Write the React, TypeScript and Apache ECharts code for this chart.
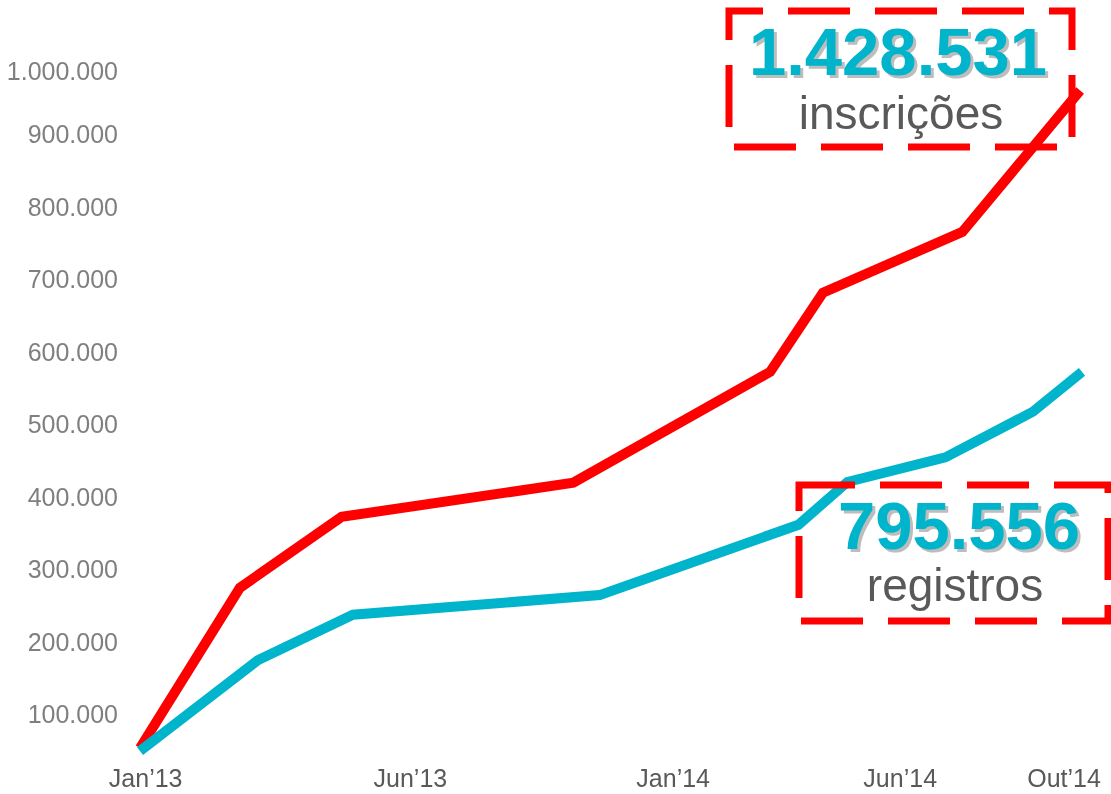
import React, { useEffect, useRef } from "react";
import * as echarts from "echarts";

// Data (x = position along the timeline, 0..100; y = cumulative count)
const inscricoesX = [0, 10.6, 21.4, 46.0, 66.9, 72.5, 87.3, 99.8];
const inscricoesY = [53000, 274000, 372000, 419000, 572000, 681000, 765000, 960000];
const registrosX = [0, 12.5, 22.6, 48.8, 69.9, 75.1, 85.5, 94.8, 100];
const registrosY = [49000, 174000, 237000, 264000, 361000, 420000, 454000, 517000, 572000];

const xTickLabels = ["Jan\u201913", "Jun\u201913", "Jan\u201914", "Jun\u201914", "Out\u201914"];
const xTickPositions = [0.6, 28.7, 56.6, 80.7, 98.1];
const yTickValues = [100000, 200000, 300000, 400000, 500000, 600000, 700000, 800000, 900000, 1000000];

const totalInscricoes = "1.428.531";
const totalRegistros = "795.556";
const labelInscricoes = "inscrições";
const labelRegistros = "registros";

const FONT = "'Liberation Sans', Arial, sans-serif";
const RED = "#ff0000";
const CYAN = "#00b4cc";

const fmt = (v: number) => String(Math.round(v)).replace(/\B(?=(\d{3})+(?!\d))/g, ".");

export default function App() {
  const ref = useRef<HTMLDivElement>(null);
  useEffect(() => {
    if (!ref.current) return;
    const chart = echarts.init(ref.current, undefined, { renderer: "svg" });
    const bigText = (text: string, x: number, y: number, fill: string, z: number) => ({
      type: "text",
      x,
      y,
      z,
      style: {
        text,
        fill,
        font: `bold 67px ${FONT}`,
        align: "center",
        verticalAlign: "middle",
      },
    });
    const smallText = (text: string, x: number, y: number) => ({
      type: "text",
      x,
      y,
      z: 12,
      style: {
        text,
        fill: "#595959",
        font: `46px ${FONT}`,
        align: "center",
        verticalAlign: "middle",
      },
    });
    const dashedBox = (x: number, y: number, w: number, h: number, offset: number) => ({
      type: "rect",
      z: 9,
      shape: { x, y, width: w, height: h },
      style: {
        fill: "none",
        stroke: RED,
        lineWidth: 7,
        lineDash: [62, 25],
        lineDashOffset: offset,
      },
    });
    chart.setOption({
      animation: false,
      grid: { left: 140, right: 29, top: 61.5, bottom: 36.5 },
      xAxis: {
        type: "value",
        min: 0,
        max: 100,
        axisLine: { show: false },
        axisTick: { show: false },
        splitLine: { show: false },
        axisLabel: {
          customValues: xTickPositions,
          formatter: (v: number) => {
            const i = xTickPositions.findIndex((p) => Math.abs(p - v) < 1e-6);
            return i >= 0 ? xTickLabels[i] : "";
          },
          color: "#595959",
          fontFamily: FONT,
          fontSize: 25,
          margin: 8,
        },
      },
      yAxis: {
        type: "value",
        min: 40000,
        max: 1000000,
        axisLine: { show: false },
        axisTick: { show: false },
        splitLine: { show: false },
        axisLabel: {
          customValues: yTickValues,
          formatter: (v: number) => (v === 1000000 ? `{top|${fmt(v)}}` : fmt(v)),
          color: "#7f7f7f",
          fontFamily: FONT,
          fontSize: 25,
          margin: 22,
          rich: {
            top: {
              color: "#7f7f7f",
              fontFamily: FONT,
              fontSize: 25,
              padding: [18, 0, 0, 0],
            },
          },
        },
      },
      series: [
        {
          type: "line",
          name: "inscrições",
          data: inscricoesX.map((x, i) => [x, inscricoesY[i]]),
          showSymbol: false,
          symbol: "none",
          lineStyle: { color: RED, width: 10, cap: "butt", join: "miter" },
          z: 2,
        },
        {
          type: "line",
          name: "registros",
          data: registrosX.map((x, i) => [x, registrosY[i]]),
          showSymbol: false,
          symbol: "none",
          lineStyle: { color: CYAN, width: 10, cap: "butt", join: "miter" },
          z: 3,
        },
      ],
      graphic: [
        dashedBox(729, 11, 343, 136, 28),
        dashedBox(799, 485, 309, 136, 6),
        bigText(totalInscricoes, 901, 54, "#bdbdbd", 10),
        bigText(totalInscricoes, 898, 51, CYAN, 11),
        smallText(labelInscricoes, 901, 113),
        bigText(totalRegistros, 962, 528, "#bdbdbd", 10),
        bigText(totalRegistros, 959, 525, CYAN, 11),
        smallText(labelRegistros, 955, 585),
      ],
    });
    return () => chart.dispose();
  }, []);
  return <div ref={ref} style={{ width: 1111, height: 794, position: "fixed", left: 0, top: 0 }} />;
}
